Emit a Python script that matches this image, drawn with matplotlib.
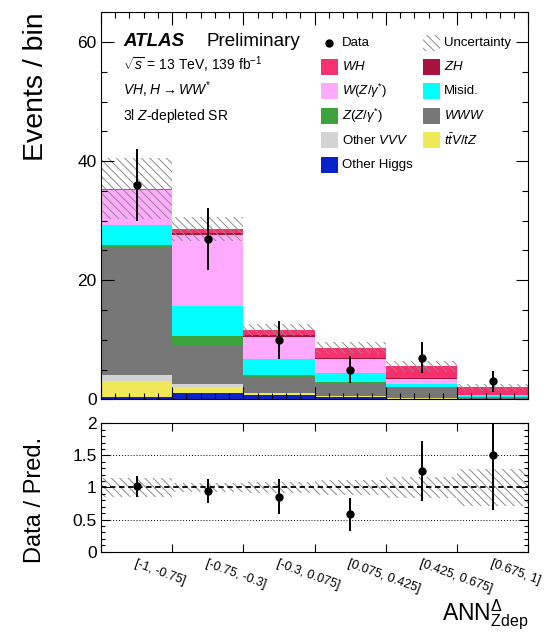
import numpy as np
import matplotlib
matplotlib.use("Agg")
import matplotlib.pyplot as plt
from matplotlib.patches import Rectangle
from matplotlib.ticker import MultipleLocator

plt.rcParams["font.family"] = ["Liberation Sans", "DejaVu Sans"]
plt.rcParams["mathtext.fontset"] = "custom"
plt.rcParams["mathtext.rm"] = "Liberation Sans"
plt.rcParams["mathtext.it"] = "Liberation Sans:italic"
plt.rcParams["mathtext.bf"] = "Liberation Sans:bold"
plt.rcParams["hatch.linewidth"] = 0.7

# ---- data -------------------------------------------------------------
bin_labels = ["[-1, -0.75]", "[-0.75, -0.3]", "[-0.3, 0.075]",
              "[0.075, 0.425]", "[0.425, 0.675]", "[0.675, 1]"]

# background / signal yields per bin (stacked bottom -> top)
other_higgs = [0.45, 1.0, 0.7, 0.4, 0.05, 0.02]
ttv_tz      = [2.6, 1.1, 0.3, 0.15, 0.2, 0.03]
other_vvv   = [1.1, 0.4, 0.1, 0.05, 0.02, 0.02]
www         = [21.5, 6.6, 2.6, 2.1, 1.68, 0.3]
z_zgamma    = [0.3, 1.5, 0.45, 0.2, 0.05, 0.03]
misid       = [3.4, 5.0, 2.55, 1.6, 0.6, 0.25]
w_zgamma    = [5.75, 12.0, 3.8, 2.2, 0.75, 0.05]
zh          = [0.1, 0.3, 0.25, 0.3, 0.25, 0.1]
wh          = [0.2, 0.7, 0.95, 1.6, 1.95, 1.2]

pred_unc = [5.1, 1.95, 1.0, 0.95, 0.95, 0.58]

data     = [36, 27, 10, 5, 7, 3]
data_err = [6.0, 5.2, 3.2, 2.2, 2.6, 1.7]

# ---- styling -----------------------------------------------------------
components = [
    (other_higgs, "#0a22cc", "Other Higgs"),
    (ttv_tz,      "#f0e857", r"$t\bar{t}V/tZ$"),
    (other_vvv,   "#d3d3d3", r"Other $VVV$"),
    (www,         "#777777", r"$WWW$"),
    (z_zgamma,    "#3da33d", r"$Z(Z/\gamma^{*})$"),
    (misid,       "#00ffff", "Misid."),
    (w_zgamma,    "#ffaaff", r"$W(Z/\gamma^{*})$"),
    (zh,          "#a8123f", r"$ZH$"),
    (wh,          "#f8306e", r"$WH$"),
]
hatch_col = "#8a8a8a"
hatch_pat = "\\\\\\\\"

fig = plt.figure(figsize=(5.57, 6.38), dpi=100)
ax = fig.add_axes([0.1813, 0.3741, 0.7675, 0.6066])
rax = fig.add_axes([0.1813, 0.1353, 0.7675, 0.2012])

edges = np.arange(len(data) + 1)
centers = edges[:-1] + 0.5

# ---- stacked histogram -------------------------------------------------
bottom = np.zeros(len(data))
for vals, col, _ in components:
    v = np.asarray(vals, dtype=float)
    ax.stairs(bottom + v, edges, baseline=bottom.copy(), fill=True,
              facecolor=col, edgecolor="none", linewidth=0)
    bottom = bottom + v
total = bottom
unc = np.asarray(pred_unc)

ax.stairs(total + unc, edges, baseline=total - unc, fill=True,
          facecolor="none", edgecolor=hatch_col, hatch=hatch_pat, linewidth=0)

ax.errorbar(centers, data, yerr=data_err, fmt="o", color="black", ms=5,
            elinewidth=1.4, capsize=0, zorder=5)

ax.set_xlim(0, len(data))
ax.set_ylim(0, 65)
ax.set_xticks(edges)
ax.set_xticklabels([])
ax.xaxis.set_minor_locator(MultipleLocator(0.2))
ax.set_yticks([0, 20, 40, 60])
ax.yaxis.set_minor_locator(MultipleLocator(5))
ax.tick_params(which="both", direction="in", top=True, right=True,
               width=0.8, labelsize=12.5, pad=3)
ax.tick_params(which="major", length=9)
ax.tick_params(which="minor", length=4.3)
ax.set_ylabel("Events / bin", fontsize=20.5, loc="top")
ax.yaxis.set_label_coords(-0.122, 1.0)

# ---- labels ------------------------------------------------------------
ax.text(0.052, 0.913, "ATLAS", transform=ax.transAxes, fontsize=13.5,
        fontweight="bold", fontstyle="italic", va="baseline")
ax.text(0.247, 0.913, "Preliminary", transform=ax.transAxes, fontsize=13.5,
        va="baseline")
ax.text(0.052, 0.851, r"$\sqrt{s}$ = 13 TeV, 139 fb$^{-1}$",
        transform=ax.transAxes, fontsize=10, va="baseline")
ax.text(0.052, 0.786, r"$VH$, $H\rightarrow WW^{*}$",
        transform=ax.transAxes, fontsize=10, va="baseline")
ax.text(0.052, 0.722, r"3l $Z$-depleted SR",
        transform=ax.transAxes, fontsize=10, va="baseline")

# ---- legend (two columns, row-major) -----------------------------------
lut = {name: col for _, col, name in components}
rows = [
    [("data", "Data"), ("unc", "Uncertainty")],
    [("box", r"$WH$"), ("box", r"$ZH$")],
    [("box", r"$W(Z/\gamma^{*})$"), ("box", "Misid.")],
    [("box", r"$Z(Z/\gamma^{*})$"), ("box", r"$WWW$")],
    [("box", r"Other $VVV$"), ("box", r"$t\bar{t}V/tZ$")],
    [("box", "Other Higgs")],
]


def px_to_ax(px, py):
    return (px - 101.0) / 427.5, (399.3 - py) / 387.0


col_x = [321.0, 422.7]
box_w, box_h = 17.0, 16.0
row_y0, row_dy = 42.5, 24.4
for r, row in enumerate(rows):
    yc = row_y0 + r * row_dy
    for c, (kind, label) in enumerate(row):
        x0 = col_x[c]
        if kind == "data":
            mx, my = px_to_ax(x0 + box_w / 2, yc)
            ax.plot([mx], [my], "o", color="black", ms=5,
                    transform=ax.transAxes, clip_on=False)
        else:
            bx, by = px_to_ax(x0, yc + box_h / 2)
            w = box_w / 427.5
            h = box_h / 387.0
            if kind == "unc":
                rect = Rectangle((bx, by), w, h, transform=ax.transAxes,
                                 facecolor="white", edgecolor=hatch_col,
                                 hatch=hatch_pat, linewidth=0)
            else:
                rect = Rectangle((bx, by), w, h, transform=ax.transAxes,
                                 facecolor=lut[label], edgecolor="none",
                                 linewidth=0)
            ax.add_patch(rect)
        tx, ty = px_to_ax(x0 + box_w + 4, yc)
        ax.text(tx, ty, label, transform=ax.transAxes, fontsize=9.5,
                va="center", ha="left")

# ---- ratio panel -------------------------------------------------------
rel_unc = unc / total
rax.stairs(1 + rel_unc, edges, baseline=1 - rel_unc, fill=True,
           facecolor="none", edgecolor=hatch_col, hatch=hatch_pat, linewidth=0)
rax.axhline(1.0, color="black", lw=1.3, ls=(0, (3, 2)))
rax.axhline(0.5, color="black", lw=0.7, ls=(0, (1, 2)))
rax.axhline(1.5, color="black", lw=0.7, ls=(0, (1, 2)))

ratio = np.asarray(data) / total
ratio_err = np.asarray(data_err) / total
rax.errorbar(centers, ratio, yerr=ratio_err, fmt="o", color="black", ms=5,
             elinewidth=1.4, capsize=0, zorder=5)

rax.set_xlim(0, len(data))
rax.set_ylim(0, 2)
rax.set_yticks([0, 0.5, 1, 1.5, 2])
rax.set_yticklabels(["0", "0.5", "1", "1.5", "2"])
rax.yaxis.set_minor_locator(MultipleLocator(0.1))
rax.set_xticks(edges)
rax.set_xticklabels([])
rax.set_xticks(centers, minor=True)
rax.set_xticklabels(bin_labels, minor=True, rotation=-20, ha="left",
                    va="top", rotation_mode="anchor", fontsize=9)
rax.tick_params(which="both", direction="in", top=True, right=True,
                width=0.8, labelsize=12.5, pad=3)
rax.tick_params(axis="y", which="major", length=6.5)
rax.tick_params(axis="y", which="minor", length=3.2)
rax.tick_params(axis="x", which="major", length=6)
rax.tick_params(axis="x", which="minor", length=0, pad=4, labelsize=9)
rax.set_ylabel("Data / Pred.", fontsize=17)
rax.yaxis.set_label_coords(-0.129, 0.40)

fig.text(528 / 557, 1 - 620 / 638, r"ANN$^{\Delta}_{\mathrm{Zdep}}$",
         ha="right", va="baseline", fontsize=16.5)

for a in (ax, rax):
    for s in a.spines.values():
        s.set_linewidth(0.8)

fig.savefig("out.png", dpi=100)
